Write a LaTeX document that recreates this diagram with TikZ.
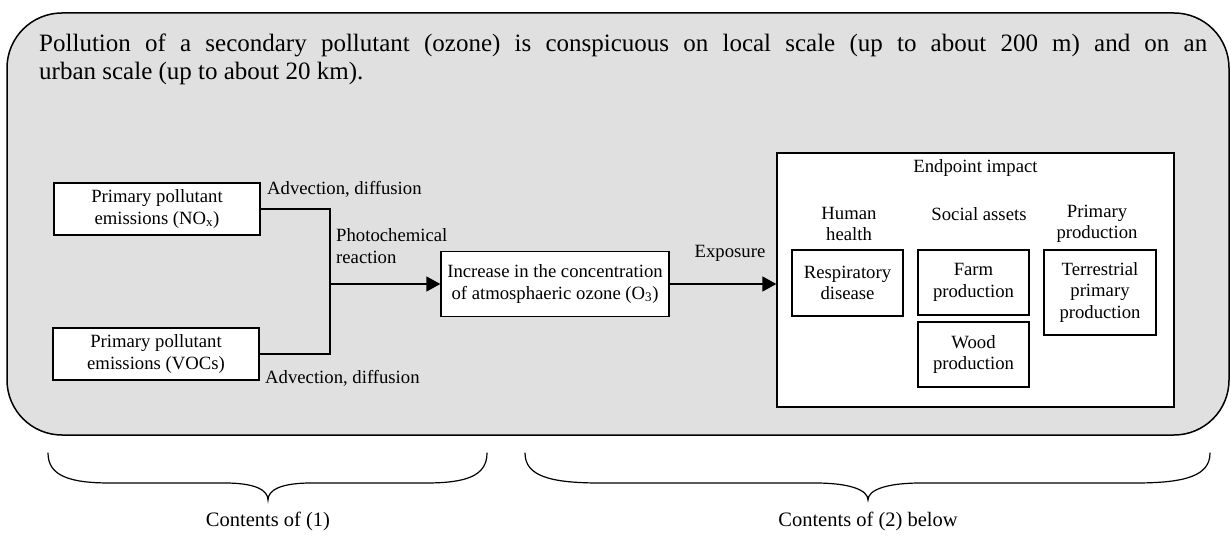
\documentclass[tikz,border=0pt]{standalone}
\usepackage{fontspec}
\setmainfont{Liberation Serif}
\usetikzlibrary{arrows.meta}
\definecolor{panel}{RGB}{224,224,224}
\begin{document}
\begin{tikzpicture}[x=1pt,y=-1pt,
  txt/.style={inner sep=0pt, font=\fontsize{18.7}{21.5}\selectfont},
  box/.style={draw, line width=1.3pt, fill=white, inner sep=0pt, align=center,
              font=\fontsize{18.7}{21.5}\selectfont},
  toptext/.style={inner sep=0pt, font=\fontsize{25}{28}\selectfont},
  bottomtext/.style={inner sep=0pt, font=\fontsize{20.5}{24}\selectfont},
  conn/.style={line width=1.6pt},
  arr/.style={line width=1.6pt, -{Triangle[length=14pt,width=15pt]}},
  bracestyle/.style={line width=1.2pt, line cap=round}
]
\useasboundingbox (0,0) rectangle (1231,537);

% shaded panel
\draw[line width=1.5pt, fill=panel, rounded corners=55pt] (7,13) rectangle (1229,435);

% heading inside the panel
\node[toptext, anchor=base west] (t1) at (39,52)
  {\makebox[1168pt][s]{Pollution of a secondary pollutant (ozone) is conspicuous on local scale (up to about 200 m) and on an}};
\node[toptext, anchor=base west] (t2) at (39,80) {urban scale (up to about 20 km).};

% emission sources
\node[box, minimum width=206, minimum height=52] (nox) at (157,209)
  {Primary pollutant\\emissions (NO\textsubscript{x})};
\node[box, minimum width=206, minimum height=52] (voc) at (156,354)
  {Primary pollutant\\emissions (VOCs)};

% ozone concentration
\node[box, minimum width=228, minimum height=65] (ozone) at (555,284)
  {Increase in the concentration\\of atmosphaeric ozone (O\textsubscript{3})};

% endpoint frame and its contents
\node[box, minimum width=397, minimum height=254] (endp) at (975.5,280) {};
\node[txt] (endt) at (975.5,168) {Endpoint impact};
\node[txt, align=center] (hh) at (849,224) {Human\\health};
\node[txt] (sa) at (979,214) {Social assets};
\node[txt, align=center] (pp) at (1097,224) {Primary\\production};
\node[box, minimum width=111, minimum height=66] (resp) at (847.5,283) {Respiratory\\disease};
\node[box, minimum width=111, minimum height=65] (farm) at (973.5,282.5) {Farm\\production};
\node[box, minimum width=111, minimum height=65] (wood) at (973.5,354.5) {Wood\\production};
\node[box, minimum width=112, minimum height=85] (terr) at (1100,292.5) {Terrestrial\\primary\\production};

% connectors
\coordinate (jn) at (330,284);
\draw[conn] (nox.east) -| (jn);
\draw[conn] (voc.east) -| (jn);
\draw[arr] (jn) -- (ozone.west);
\draw[arr] (ozone.east) -- (ozone.east -| endp.west);

% connector labels
\node[txt, anchor=west] (adv1) at (267,189) {Advection, diffusion};
\node[txt, anchor=west] (adv2) at (265,378) {Advection, diffusion};
\node[txt, anchor=west, align=left] (photo) at (336,246) {Photochemical\\reaction};
\node[txt] (expo) at (730,253) {Exposure};

% braces below the panel
\draw[bracestyle] (48,453) .. controls (48,476) and (70,483) .. (110,483)
  -- (225,483) .. controls (255,483) and (268,490) .. (268,500)
  .. controls (268,490) and (281,483) .. (311,483)
  -- (426,483) .. controls (466,483) and (487,476) .. (487,453);
\draw[bracestyle] (525,453) .. controls (525,476) and (550,483) .. (600,483)
  -- (815,483) .. controls (850,483) and (868,490) .. (868,500)
  .. controls (868,490) and (886,483) .. (921,483)
  -- (1135,483) .. controls (1185,483) and (1210,476) .. (1210,453);
\node[bottomtext] (c1) at (268,521) {Contents of (1)};
\node[bottomtext] (c2) at (868,521) {Contents of (2) below};
\end{tikzpicture}
\end{document}
